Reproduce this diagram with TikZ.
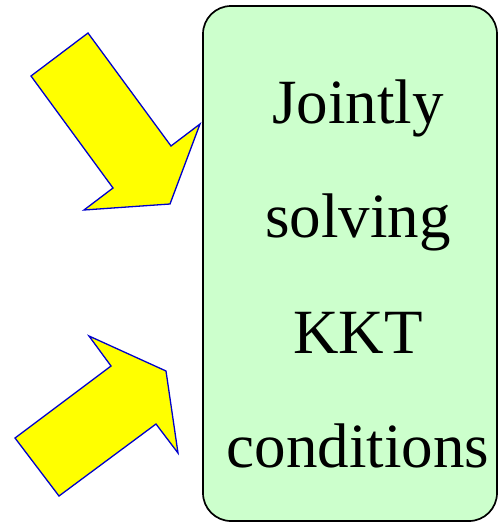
\documentclass[tikz,border=0pt]{standalone}
\usepackage{fontspec}
\setmainfont{Liberation Serif}
\definecolor{kktgreen}{RGB}{204,255,204}
\definecolor{arrowblue}{RGB}{0,0,204}
\definecolor{arrowyellow}{RGB}{255,255,0}
\begin{document}
\begin{tikzpicture}[
  x=1pt, y=-1pt,
  bigarrow/.style={draw=arrowblue, line width=1.3pt, fill=arrowyellow, line join=miter},
  kktbox/.style={draw, line width=1.7pt, rounded corners=28pt, fill=kktgreen},
  txt/.style={font=\fontsize{63}{75}\selectfont, anchor=base, inner sep=0pt},
]
\useasboundingbox (0,0) rectangle (499,523);

%% Box with the text lines
\draw[kktbox] (203,6) rectangle (497,521);
\node[txt] (l1) at (358,123) {Jointly};
\node[txt] (l2) at (358,237) {solving};
\node[txt] (l3) at (358,353) {KKT};
\node[txt] (l4) at (358,467) {conditions};

%% Upper arrow, pointing down-right
\draw[bigarrow] (88,33) -- (31,76) -- (113,188) -- (84,210) -- (170,204)
  -- (200,124) -- (171,146) -- cycle;

%% Lower arrow, pointing up-right
\draw[bigarrow] (89,336) -- (111,366) -- (15,438) -- (59,496) -- (156,424)
  -- (178,453) -- (166,371) -- cycle;

\end{tikzpicture}
\end{document}
